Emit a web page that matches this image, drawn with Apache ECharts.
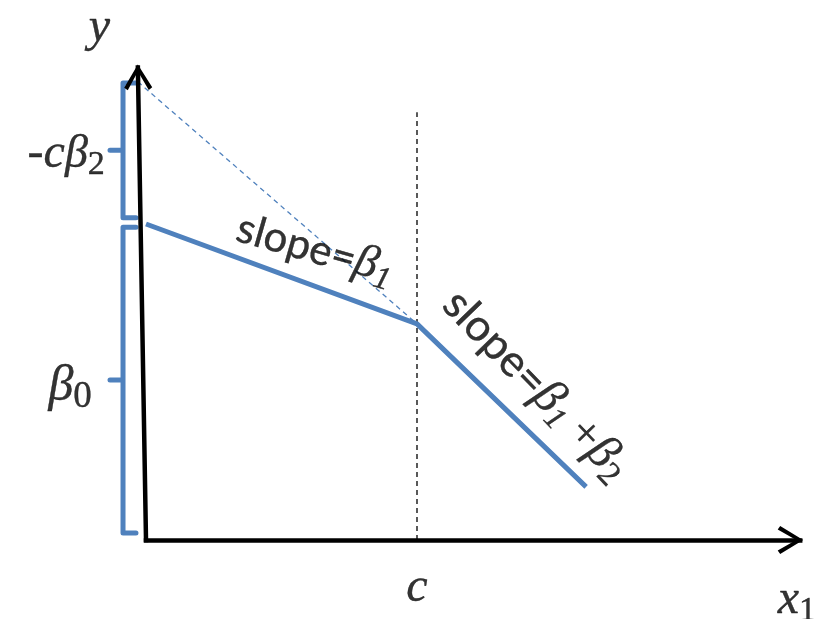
<!DOCTYPE html>
<html>
<head>
<meta charset="utf-8">
<script src="https://cdn.jsdelivr.net/npm/echarts@6/dist/echarts.min.js"></script>
<style>
html,body{margin:0;padding:0;background:#fff}
#main{width:818px;height:619px}
</style>
</head>
<body>
<div id="main"></div>
<script>
// piecewise linear model y = b0 + b1*x + b2*max(0, x - c)
var knotC = 5;
var fitX = [0, 5, 8.12];
var fitY = [10, 6.84, 1.68];
// extension of first segment back to the y axis (intercept b0 - c*b2)
var extendX = [-0.15, 5];
var extendY = [14.5, 6.84];
// brace ranges on the y axis
var b0Range = [0.22, 9.9];
var cb2Range = [10.2, 14.46];
// axis tips
var xTip = [12.07, 0];
var yTip = [-0.15, 14.95];
var cLineTop = 13.54;

// pixel layout of the drawing
var W = 818, H = 619, OX = 146, OY = 540, XU = 54.2, YU = 31.6;
var blue = '#4F81BD';

var chart = echarts.init(document.getElementById('main'));

function zip(xs, ys) {
    return xs.map(function (x, i) { return [x, ys[i]]; });
}

// brace: spine, hooks to the right, tick to the left at the middle
function brace(r) {
    var spine = -0.424, hook = -0.185, tick = -0.664;
    var m = (r[0] + r[1]) / 2;
    return [[hook, r[1]], [spine, r[1]], [spine, m], [tick, m], [spine, m], [spine, r[0]], [hook, r[0]]];
}

var arrowPath = 'path://M0,0 M48,48 M24,21 L38,44 L34.5,46.5 L24,28 L13.5,46.5 L10,44 Z';

function tok(family, size, italic, extra) {
    var s = {fontFamily: family, fontSize: size, color: '#000', textBorderColor: '#000', textBorderWidth: 0.4};
    if (italic) s.fontStyle = 'italic';
    return Object.assign(s, extra || {});
}
var rich = {
    it: tok('Liberation Serif', 48, true),
    gr: tok('Liberation Serif', 46, true),
    gr2: tok('Liberation Serif', 50, true),
    grs: tok('Liberation Serif', 48, true),
    sub: tok('Liberation Serif', 34, false, {padding: [22, 0, 0, 0]}),
    sub0: tok('Liberation Serif', 37, false, {padding: [22, 0, 0, 0]}),
    subi: tok('Liberation Serif', 32, true, {padding: [22, 0, 0, 0]}),
    sans: tok('Lato', 42, false),
    sans2: tok('Lato', 44, false),
    plus: tok('Liberation Serif', 46, false)
};

var labels = [
    {value: [-0.86, 16.2], text: '{it|y}'},
    {value: [-0.76, 12.2], text: '{it|-c}{gr|β}{sub|2}', align: 'right'},
    {value: [-1.0, 4.85], text: '{gr2|β}{sub0|0}', align: 'right'},
    {value: [knotC, -1.52], text: '{it|c}'},
    {value: [12.01, -1.9], text: '{it|x}{sub|1}'},
    {value: [3.12, 9.2], text: '{sans|slope=}{gr|β}{subi|1}', rotate: -16},
    {value: [7.2, 4.89], text: '{sans2|slope=}{grs|β}{subi|1}{plus| +}{grs|β}{sub|2}', rotate: -46}
];

var option = {
    animation: false,
    grid: {left: 0, right: 0, top: 0, bottom: 0},
    xAxis: {type: 'value', min: -OX / XU, max: (W - OX) / XU, show: false},
    yAxis: {type: 'value', min: -(H - OY) / YU, max: OY / YU, show: false},
    series: [
        {
            type: 'line',
            data: [[knotC, 0], [knotC, cLineTop]],
            showSymbol: false,
            lineStyle: {color: '#000', width: 1.3, type: [5, 4]},
            z: 1
        },
        {
            type: 'line',
            data: zip(extendX, extendY),
            showSymbol: false,
            lineStyle: {color: blue, width: 1.3, type: [5, 4]},
            z: 2
        },
        {
            type: 'line',
            data: zip(fitX, fitY),
            showSymbol: false,
            lineStyle: {color: blue, width: 5, join: 'round'},
            z: 3
        },
        {
            type: 'line',
            data: brace(cb2Range),
            showSymbol: false,
            lineStyle: {color: blue, width: 5, join: 'round', cap: 'round'},
            z: 3
        },
        {
            type: 'line',
            data: brace(b0Range),
            showSymbol: false,
            lineStyle: {color: blue, width: 5, join: 'round', cap: 'round'},
            z: 3
        },
        {
            type: 'lines',
            coordinateSystem: 'cartesian2d',
            symbol: ['none', arrowPath],
            symbolSize: [0, 48],
            lineStyle: {color: '#000', width: 4.5, opacity: 1, curveness: 0, cap: 'square'},
            data: [
                {coords: [[0, 0], xTip]},
                {coords: [[0, 0], yTip]}
            ],
            z: 5
        },
        {
            type: 'scatter',
            symbolSize: 0,
            z: 6,
            data: labels.map(function (l) {
                return {
                    value: l.value,
                    label: {
                        show: true,
                        position: 'inside',
                        formatter: l.text,
                        rich: rich,
                        color: '#000',
                        align: l.align || 'center',
                        verticalAlign: 'middle',
                        rotate: l.rotate || 0
                    }
                };
            })
        }
    ]
};
chart.setOption(option);
</script>
</body>
</html>
